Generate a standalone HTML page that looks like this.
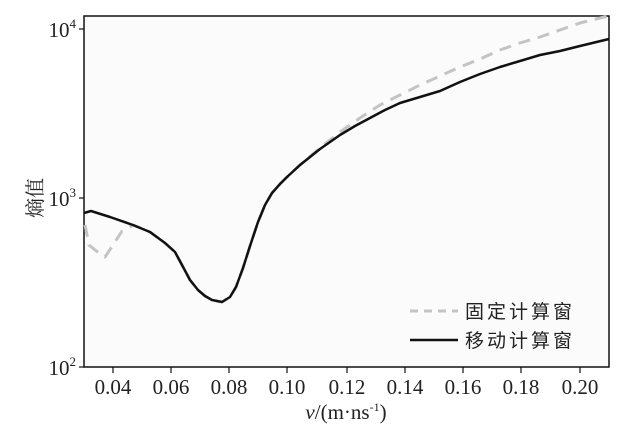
<!DOCTYPE html>
<html><head><meta charset="utf-8"><style>
body{margin:0;background:#fff;}
svg{display:block;font-family:"Liberation Serif","Noto Serif CJK SC",serif;}
</style></head><body>
<svg width="634" height="440" viewBox="0 0 634 440">
<rect x="0" y="0" width="634" height="440" fill="#fff"/>
<rect x="84" y="16" width="525" height="351" fill="#fbfbfb" stroke="#111" stroke-width="1.5"/>
<g stroke="#111" stroke-width="1.2">
<line x1="79" y1="29" x2="84" y2="29"/><line x1="79" y1="198" x2="84" y2="198"/><line x1="79" y1="367" x2="84" y2="367"/>
<line x1="113" y1="367" x2="113" y2="373"/><line x1="171" y1="367" x2="171" y2="373"/><line x1="229" y1="367" x2="229" y2="373"/><line x1="287" y1="367" x2="287" y2="373"/><line x1="347" y1="367" x2="347" y2="373"/><line x1="405" y1="367" x2="405" y2="373"/><line x1="463" y1="367" x2="463" y2="373"/><line x1="521" y1="367" x2="521" y2="373"/><line x1="580" y1="367" x2="580" y2="373"/>
</g>
<g font-size="21" fill="#222" text-anchor="end">
<text x="76" y="37">10<tspan dy="-9" font-size="13">4</tspan></text>
<text x="76" y="206">10<tspan dy="-9" font-size="13">3</tspan></text>
<text x="76" y="375">10<tspan dy="-9" font-size="13">2</tspan></text>
</g>
<g font-size="21" fill="#222" text-anchor="middle">
<text x="113" y="394">0.04</text><text x="171" y="394">0.06</text><text x="229" y="394">0.08</text><text x="287" y="394">0.10</text><text x="347" y="394">0.12</text><text x="405" y="394">0.14</text><text x="463" y="394">0.16</text><text x="521" y="394">0.18</text><text x="580" y="394">0.20</text>
<text x="346" y="419"><tspan font-style="italic">v</tspan>/(m·ns<tspan dy="-8" font-size="12">-1</tspan><tspan dy="8">)</tspan></text>
</g>
<text transform="translate(42,198) rotate(-90)" font-size="20" fill="#222" text-anchor="middle">熵值</text>
<polyline fill="none" stroke="#c4c4c4" stroke-width="3" stroke-linejoin="round" stroke-dasharray="12,8" points="85,225 89,245 95,250 105,257 113,245 122,231 133,225 150,232 165,243 175,252 182,265 190,280 198,290 205,296 212,300 222,302 230,297 236,287 243,268 250,246 258,222 265,205 272,193 280,184 287,177 300,165 320,148 340,132 360,118 380,105 400,95 420,85 440,76 460,67 480,59 500,50 520,43 540,37 560,30 580,23 600,18 609,16"/>
<polyline fill="none" stroke="#111" stroke-width="2.5" stroke-linejoin="round" points="84,213 91,211 110,217 133,225 150,232 165,243 175,252 182,265 190,280 198,290 205,296 212,300 222,302 230,297 236,287 243,268 250,246 258,222 265,205 272,193 280,184 287,177 300,165 320,149 340,135 355,126 370,118 385,110 400,103 420,97 440,91 460,82 480,74 500,67 520,61 540,55 560,51 580,46 609,39"/>
<line x1="410" y1="311" x2="458" y2="311" stroke="#c4c4c4" stroke-width="3" stroke-dasharray="8,6"/>
<line x1="410" y1="340" x2="458" y2="340" stroke="#111" stroke-width="2.5"/>
<g font-size="19" fill="#222" font-family="Liberation Sans,'Noto Sans CJK SC',sans-serif">
<text x="465" y="318" letter-spacing="3">固定计算窗</text>
<text x="465" y="347" letter-spacing="3">移动计算窗</text>
</g>
</svg>
</body></html>
